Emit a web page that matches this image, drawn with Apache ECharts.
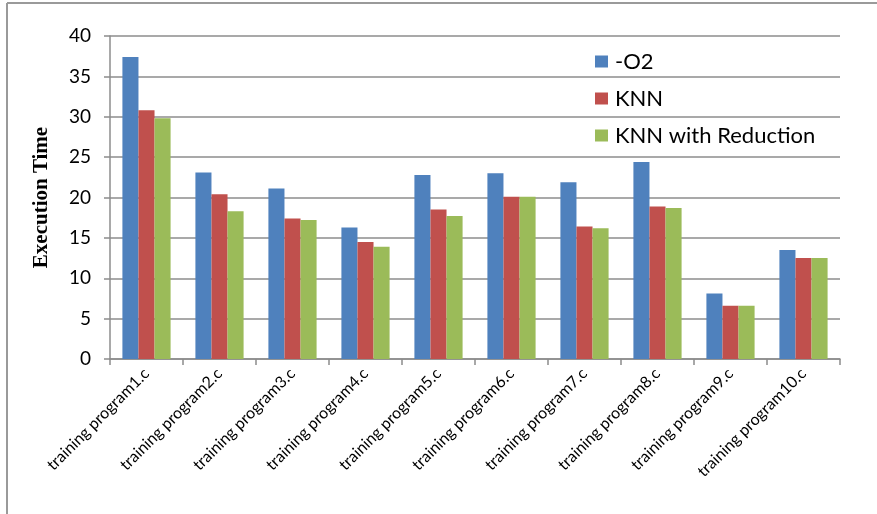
<!DOCTYPE html>
<html>
<head>
<meta charset="utf-8">
<script src="https://cdn.jsdelivr.net/npm/echarts@6/dist/echarts.min.js"></script>
<style>
  html, body { margin: 0; padding: 0; background: #fff; }
  #chart { width: 877px; height: 514px; }
</style>
</head>
<body>
<div id="chart"></div>
<script>
// Execution time per training program under three compilation settings
const categories = [
  'training program1.c', 'training program2.c', 'training program3.c',
  'training program4.c', 'training program5.c', 'training program6.c',
  'training program7.c', 'training program8.c', 'training program9.c',
  'training program10.c'
];
const seriesNames = ['-O2', 'KNN', 'KNN with Reduction'];
const o2Times = [37.4, 23.1, 21.1, 16.3, 22.8, 23.0, 21.9, 24.4, 8.1, 13.5];
const knnTimes = [30.8, 20.4, 17.4, 14.5, 18.5, 20.1, 16.4, 18.9, 6.6, 12.5];
const knnReducedTimes = [29.8, 18.3, 17.2, 13.9, 17.7, 20.1, 16.2, 18.7, 6.6, 12.5];
const yTicks = { min: 0, max: 40, interval: 5 };

const colors = ['#4F81BD', '#C0504D', '#9BBB59'];
const uiFont = 'Lato';

const chart = echarts.init(document.getElementById('chart'), null, { renderer: 'canvas' });

chart.setOption({
  animation: false,
  backgroundColor: '#ffffff',
  color: colors,
  grid: { left: 110, right: 37, top: 36, bottom: 155, containLabel: false },
  legend: {
    orient: 'vertical',
    left: 590,
    top: 45,
    itemWidth: 13,
    itemHeight: 12,
    itemGap: 14,
    icon: 'rect',
    textStyle: { fontFamily: uiFont, fontSize: 22, color: '#000', lineHeight: 23, padding: [0, 0, 0, 2] },
    data: seriesNames
  },
  xAxis: {
    type: 'category',
    data: categories,
    axisLine: { lineStyle: { color: '#8c8c8c', width: 1.5 } },
    axisTick: { show: true, length: 6, lineStyle: { color: '#8c8c8c', width: 1.5 } },
    axisLabel: {
      interval: 0,
      rotate: 45,
      margin: 12,
      fontFamily: uiFont,
      fontSize: 16,
      color: '#000'
    },
    splitLine: { show: false }
  },
  yAxis: {
    type: 'value',
    min: yTicks.min,
    max: yTicks.max,
    interval: yTicks.interval,
    name: 'Execution Time',
    nameLocation: 'middle',
    nameGap: 58,
    nameTextStyle: {
      fontFamily: 'Liberation Serif',
      fontWeight: 'bold',
      fontSize: 21,
      color: '#000'
    },
    axisLine: { show: true, lineStyle: { color: '#8c8c8c', width: 1.5 } },
    axisTick: { show: true, length: 6, lineStyle: { color: '#8c8c8c', width: 1.5 } },
    axisLabel: { fontFamily: uiFont, fontSize: 19, color: '#000', margin: 19 },
    splitLine: { lineStyle: { color: '#8c8c8c', width: 1.5 } }
  },
  series: [
    { name: seriesNames[0], type: 'bar', data: o2Times, barGap: '0%', barCategoryGap: '34%' },
    { name: seriesNames[1], type: 'bar', data: knnTimes, barGap: '0%', barCategoryGap: '34%' },
    { name: seriesNames[2], type: 'bar', data: knnReducedTimes, barGap: '0%', barCategoryGap: '34%' }
  ],
  graphic: [
    { type: 'line', shape: { x1: 7, y1: 3, x2: 877, y2: 3 }, style: { stroke: '#9a9a9a', lineWidth: 2 } },
    { type: 'line', shape: { x1: 7, y1: 3, x2: 7, y2: 514 }, style: { stroke: '#9a9a9a', lineWidth: 2 } }
  ]
});
</script>
</body>
</html>
